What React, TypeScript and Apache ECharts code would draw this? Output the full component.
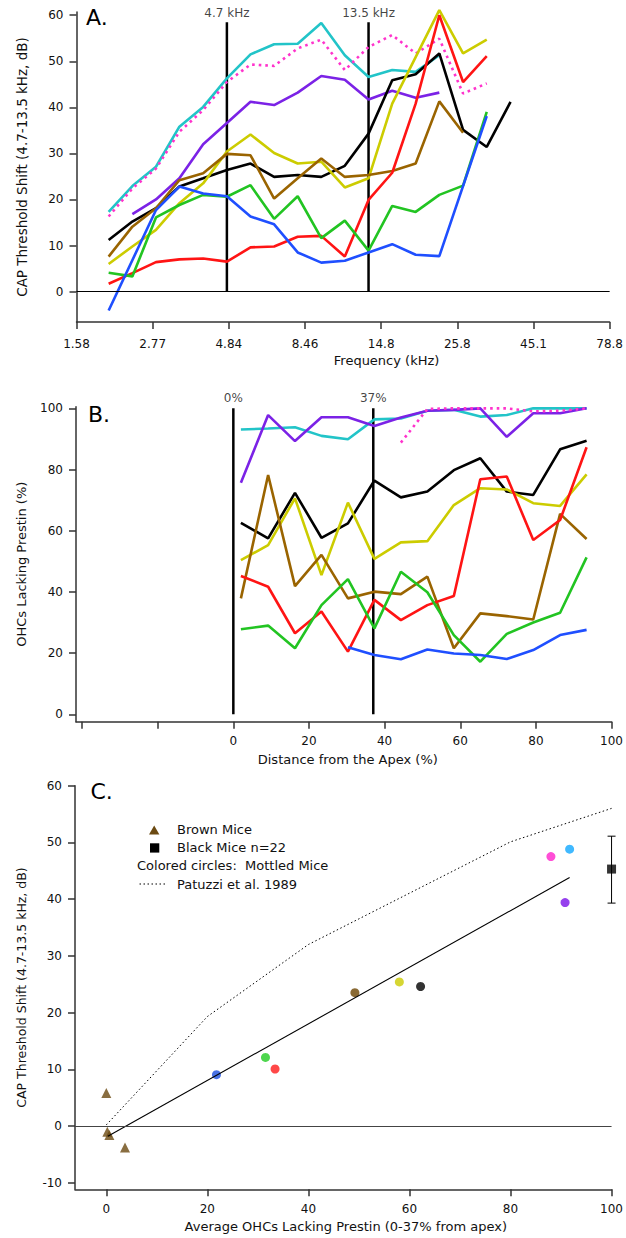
import React, { useEffect, useRef } from "react";
import * as echarts from "echarts";

// ---------- Panel A data ----------
const FREQ_TICK_LABELS = ["1.58", "2.77", "4.84", "8.46", "14.8", "25.8", "45.1", "78.8"];
const FREQ_KHZ = [2, 2.38, 2.83, 3.36, 4, 4.76, 5.66, 6.73, 8, 9.51, 11.3, 13.45, 16, 19, 22.6, 26.9, 32, 38.1];
const A_MARKERS = [4.76, 13.45];
const A_MARKER_LABELS = ["4.7 kHz", "13.5 kHz"];
const A_MARKER_TOP = 58.5;

const A_CYAN = [17.3, 22.9, 27.1, 35.8, 40.1, 46.3, 51.5, 53.7, 53.8, 58.3, 51.3, 46.6, 48.1, 47.7, 51.3, null, null, null];
const A_MAGENTA = [16.3, 22.4, 26.7, 34.7, 39.4, 45.5, 49.3, 49.0, 52.8, 54.7, 48.1, 53.1, 55.7, 51.7, 54.9, 43.0, 45.2, null];
const A_PURPLE = [null, 16.8, 20.0, 24.6, 32.0, 36.6, 41.2, 40.5, 43.2, 46.8, 46.0, 41.7, 43.6, 42.1, 43.2, null, null, null];
const A_BLACK = [11.2, 15.2, 18.1, 22.8, 24.6, 26.4, 27.8, 24.9, 25.3, 24.9, 27.3, 34.3, 45.9, 47.2, 51.7, 35.1, 31.4, 41.2];
const A_YELLOW = [6.0, 9.8, 13.4, 19.2, 23.5, 30.4, 34.1, 30.1, 27.8, 28.2, 22.6, 24.6, 40.8, 50.9, 61.1, 51.7, 54.7, null];
const A_RED = [1.7, 4.0, 6.4, 7.0, 7.2, 6.5, 9.6, 9.8, 11.9, 12.1, 7.6, 19.9, 25.8, 40.8, 60.0, 45.5, 51.1, null];
const A_BROWN = [7.6, 14.1, 18.1, 24.2, 25.7, 29.9, 29.6, 20.2, 24.6, 28.9, 24.9, 25.3, 26.2, 27.8, 41.3, 34.5, null, null];
const A_GREEN = [4.1, 3.3, 16.1, 18.8, 21.0, 20.6, 23.1, 15.8, 20.7, 11.6, 15.4, 8.9, 18.6, 17.3, 21.0, 23.0, 39.0, null];
const A_BLUE = [-4.1, null, 17.7, 22.8, 21.3, 20.7, 16.3, 14.6, 8.5, 6.3, 6.7, 8.5, 10.3, 8.0, 7.7, null, 38.1, null];

// ---------- Panel B data ----------
const B_X = [2, 9.2, 16.3, 23.3, 30.3, 37.3, 44.3, 51.3, 58.3, 65.3, 72.3, 79.3, 86.4, 93.4];
const B_MARKERS = [0, 37];
const B_MARKER_LABELS = ["0%", "37%"];
const B_CYAN = [93.1, 93.4, 93.8, 91.0, 89.9, 96.4, 96.7, 99.2, 99.5, 97.3, 97.8, 100, 100, 100];
const B_PURPLE = [75.7, 97.8, 89.3, 97.1, 97.1, 94.2, 97.0, 99.2, 99.5, 100, 90.7, 98.4, 98.4, 100];
const B_MAGENTA = [null, null, null, null, null, null, 88.8, 99.8, 100, 100, 100, 99.0, 99.2, 100];
const B_MAGENTA_CIRCLE = [2, 88.3];
const B_BLACK = [62.6, 57.5, 72.4, 57.7, 62.4, 76.4, 70.9, 72.8, 79.8, 83.7, 72.8, 71.7, 86.6, 89.4];
const B_YELLOW = [50.4, 55.3, 70.6, 45.5, 69.2, 50.8, 56.2, 56.6, 68.4, 73.9, 73.5, 69.0, 68.1, 78.4];
const B_RED = [45.2, 41.7, 26.5, 33.6, 20.5, 37.4, 30.8, 35.7, 38.7, 76.8, 77.7, 57.0, 63.5, 87.3];
const B_BROWN = [37.9, 78.2, 41.9, 52.1, 37.9, 40.1, 39.3, 45.0, 21.6, 33.0, 32.1, 31.0, 65.5, 57.3];
const B_GREEN = [27.8, 29.0, 21.6, 35.7, 44.2, 28.1, 46.6, 39.9, 25.9, 17.2, 26.3, 30.0, 33.2, 51.3];
const B_BLUE = [null, null, null, null, 21.9, 19.4, 18.0, 21.2, 19.9, 19.4, 18.1, 21.0, 25.9, 27.6];

// ---------- Panel C data ----------
const C_BROWN_X = [0, 0.2, 0.6, 3.7];
const C_BROWN_Y = [5.8, -1.0, -1.6, -3.8];
const C_BLACK_SQ = [100, 45.3];
const C_BLACK_ERR = [39.3, 51.1];
const C_CIRCLE_X = [21.8, 31.5, 33.4, 49.2, 58.0, 62.2, 88.0, 91.7, 90.8];
const C_CIRCLE_Y = [9.05, 12.1, 10.05, 23.5, 25.4, 24.6, 47.5, 48.8, 39.4];
const C_FIT_X = [0.3, 91.7];
const C_FIT_Y = [-1.8, 43.8];
const C_PATUZZI_X = [0, 20, 40, 80, 100];
const C_PATUZZI_Y = [0.2, 19.3, 32.0, 50.1, 56.0];

// ---------- styles ----------
const FONT = "DejaVu Sans";
const COL = {
  cyan: "#22c4c8",
  magenta: "#ff33cc",
  purple: "#7b22e6",
  black: "#000000",
  yellow: "#cccc00",
  red: "#ff1414",
  brown: "#9a6400",
  green: "#22c422",
  blue: "#1f4fff",
};
const C_CIRCLE_COLORS = ["#1a4fdf", "#22cc22", "#ff1a1a", "#6b4400", "#cccc00", "#000000", "#ff22cc", "#10a8ff", "#7a10e8"];

const LOG_SPAN = Math.log10(78.8 / 1.58);
const fpos = (f: number) => (7 * Math.log10(f / 1.58)) / LOG_SPAN;

function axisBase(extra: any) {
  return {
    type: "value",
    splitLine: { show: false },
    axisLine: { show: true, onZero: false, lineStyle: { color: "#333", width: 1.5 } },
    axisTick: { show: true, inside: false, length: 7, lineStyle: { color: "#333", width: 1.5 }, ...(extra.axisTick || {}) },
    axisLabel: { color: "#111", fontFamily: FONT, fontSize: 12, ...(extra.axisLabel || {}) },
    nameTextStyle: { color: "#111", fontFamily: FONT, fontSize: 13, ...(extra.nameTextStyle || {}) },
    ...Object.fromEntries(Object.entries(extra).filter(([k]) => !["axisTick", "axisLabel", "nameTextStyle"].includes(k))),
  };
}

function lineA(name: string, vals: (number | null)[], color: string, dotted = false) {
  return {
    type: "line",
    name,
    xAxisIndex: 0,
    yAxisIndex: 0,
    data: FREQ_KHZ.map((f, i) => [fpos(f), vals[i]]),
    showSymbol: false,
    symbol: "none",
    connectNulls: true,
    clip: false,
    lineStyle: { color, width: 2.6, type: dotted ? [2.6, 4] : "solid" },
  };
}

function lineB(name: string, vals: (number | null)[], color: string, dotted = false) {
  return {
    type: "line",
    name,
    xAxisIndex: 1,
    yAxisIndex: 1,
    data: B_X.map((x, i) => [x, vals[i]]),
    showSymbol: false,
    symbol: "none",
    connectNulls: false,
    clip: false,
    lineStyle: { color, width: 2.6, type: dotted ? [2.6, 4] : "solid" },
  };
}

export default function App() {
  const ref = useRef<HTMLDivElement>(null);
  useEffect(() => {
    if (!ref.current) return;
    const chart = echarts.init(ref.current, null, { renderer: "svg" });

    const markerSeriesA = A_MARKERS.map((f) => ({
      type: "line",
      xAxisIndex: 0,
      yAxisIndex: 0,
      data: [[fpos(f), 0], [fpos(f), A_MARKER_TOP]],
      showSymbol: false,
      symbol: "none",
      lineStyle: { color: "#000", width: 2.5 },
    }));
    const markerSeriesB = B_MARKERS.map((x) => ({
      type: "line",
      xAxisIndex: 1,
      yAxisIndex: 1,
      data: [[x, 0], [x, 100]],
      showSymbol: false,
      symbol: "none",
      lineStyle: { color: "#000", width: 2.5 },
    }));

    const option: any = {
      animation: false,
      backgroundColor: "#fff",
      grid: [
        { left: 76.5, right: 9, top: 12, bottom: 1238 - 322 },
        { left: 76, right: 12, top: 406.8, bottom: 1238 - 721.7 },
        { left: 75, right: 7.7, top: 785.7, bottom: 1238 - 1189.3 },
      ],
      xAxis: [
        axisBase({
          gridIndex: 0,
          min: 0,
          max: 7,
          interval: 1,
          name: "Frequency (kHz)",
          nameLocation: "middle",
          nameGap: 32,
          nameTextStyle: { padding: [0, 0, 0, 87] },
          axisLabel: { margin: 16, formatter: (v: number) => FREQ_TICK_LABELS[Math.round(v)] ?? "" },
        }),
        axisBase({
          gridIndex: 1,
          min: -41.6,
          max: 100,
          name: "Distance from the Apex (%)",
          nameLocation: "middle",
          nameGap: 31,
          nameTextStyle: { padding: [0, 0, 0, 8] },
          axisTick: { customValues: [-40, -20, 0, 20, 40, 60, 80, 100] },
          axisLabel: { margin: 13, customValues: [0, 20, 40, 60, 80, 100] },
        }),
        axisBase({
          gridIndex: 2,
          min: -6.2,
          max: 100,
          name: "Average OHCs Lacking Prestin (0-37% from apex)",
          nameLocation: "middle",
          nameGap: 31,
          nameTextStyle: { padding: [0, 0, 0, 5] },
          axisTick: { customValues: [0, 20, 40, 60, 80, 100] },
          axisLabel: { margin: 14, customValues: [0, 20, 40, 60, 80, 100] },
        }),
      ],
      yAxis: [
        axisBase({
          gridIndex: 0,
          min: -6.6,
          max: 60.7,
          name: "CAP Threshold Shift (4.7-13.5 kHz, dB)",
          nameLocation: "middle",
          nameGap: 48,
          nameTextStyle: { fontSize: 13.5 },
          axisTick: { customValues: [0, 10, 20, 30, 40, 50, 60] },
          axisLabel: { margin: 13, customValues: [0, 10, 20, 30, 40, 50, 60] },
        }),
        axisBase({
          gridIndex: 1,
          min: -2.4,
          max: 100.5,
          name: "OHCs Lacking Prestin (%)",
          nameLocation: "middle",
          nameGap: 48,
          axisTick: { customValues: [0, 20, 40, 60, 80, 100] },
          axisLabel: { margin: 13, customValues: [0, 20, 40, 60, 80, 100] },
        }),
        axisBase({
          gridIndex: 2,
          min: -11.16,
          max: 60,
          name: "CAP Threshold Shift (4.7-13.5 kHz, dB)",
          nameLocation: "middle",
          nameGap: 47,
          nameTextStyle: { fontSize: 12.5 },
          axisTick: { customValues: [-10, 0, 10, 20, 30, 40, 50, 60] },
          axisLabel: { margin: 13, customValues: [-10, 0, 10, 20, 30, 40, 50, 60] },
        }),
      ],
      series: [
        // ---- Panel A ----
        {
          type: "line",
          xAxisIndex: 0,
          yAxisIndex: 0,
          data: [],
          markLine: {
            silent: true,
            symbol: "none",
            label: { show: false },
            lineStyle: { color: "#000", width: 1, type: "solid" },
            data: [{ yAxis: 0 }],
          },
        },
        ...markerSeriesA,
        {
          type: "scatter",
          xAxisIndex: 0,
          yAxisIndex: 0,
          symbolSize: 0,
          data: A_MARKERS.map((f, i) => ({ value: [fpos(f), A_MARKER_TOP], name: A_MARKER_LABELS[i] })),
          label: { show: true, position: "top", distance: 3, formatter: "{b}", color: "#111", fontFamily: FONT, fontSize: 12 },
        },
        lineA("cyan", A_CYAN, COL.cyan),
        lineA("magenta", A_MAGENTA, COL.magenta, true),
        lineA("purple", A_PURPLE, COL.purple),
        lineA("black", A_BLACK, COL.black),
        lineA("yellow", A_YELLOW, COL.yellow),
        lineA("brown", A_BROWN, COL.brown),
        lineA("red", A_RED, COL.red),
        lineA("green", A_GREEN, COL.green),
        lineA("blue", A_BLUE, COL.blue),

        // ---- Panel B ----
        ...markerSeriesB,
        {
          type: "scatter",
          xAxisIndex: 1,
          yAxisIndex: 1,
          symbolSize: 0,
          data: B_MARKERS.map((x, i) => ({ value: [x, 100], name: B_MARKER_LABELS[i] })),
          label: { show: true, position: "top", distance: 4, formatter: "{b}", color: "#111", fontFamily: FONT, fontSize: 12 },
        },
        lineB("cyan", B_CYAN, COL.cyan),
        lineB("purple", B_PURPLE, COL.purple),
        lineB("magenta", B_MAGENTA, COL.magenta, true),
        lineB("black", B_BLACK, COL.black),
        lineB("yellow", B_YELLOW, COL.yellow),
        lineB("brown", B_BROWN, COL.brown),
        lineB("red", B_RED, COL.red),
        lineB("green", B_GREEN, COL.green),
        lineB("blue", B_BLUE, COL.blue),
        {
          type: "scatter",
          xAxisIndex: 1,
          yAxisIndex: 1,
          symbol: "emptyCircle",
          symbolSize: 8,
          data: [B_MAGENTA_CIRCLE],
          itemStyle: { color: "#fff", borderColor: COL.magenta, borderWidth: 2 },
        },

        // ---- Panel C ----
        {
          type: "line",
          xAxisIndex: 2,
          yAxisIndex: 2,
          data: [],
          markLine: {
            silent: true,
            symbol: "none",
            label: { show: false },
            lineStyle: { color: "#444", width: 1, type: "solid" },
            data: [{ yAxis: 0 }],
          },
        },
        {
          type: "line",
          name: "Patuzzi et al. 1989",
          xAxisIndex: 2,
          yAxisIndex: 2,
          data: C_PATUZZI_X.map((x, i) => [x, C_PATUZZI_Y[i]]),
          showSymbol: false,
          symbol: "none",
          lineStyle: { color: "#000", width: 1, type: [1.5, 2.5] },
        },
        {
          type: "line",
          name: "fit",
          xAxisIndex: 2,
          yAxisIndex: 2,
          data: C_FIT_X.map((x, i) => [x, C_FIT_Y[i]]),
          showSymbol: false,
          symbol: "none",
          lineStyle: { color: "#000", width: 1.1 },
        },
        {
          type: "scatter",
          name: "Brown Mice",
          xAxisIndex: 2,
          yAxisIndex: 2,
          symbol: "triangle",
          symbolSize: 10,
          data: C_BROWN_X.map((x, i) => [x, C_BROWN_Y[i]]),
          itemStyle: { color: "#6b4a12" },
        },
        {
          type: "scatter",
          name: "Mottled Mice",
          xAxisIndex: 2,
          yAxisIndex: 2,
          symbol: "circle",
          symbolSize: 9,
          data: C_CIRCLE_X.map((x, i) => ({ value: [x, C_CIRCLE_Y[i]], itemStyle: { color: C_CIRCLE_COLORS[i] } })),
        },
        {
          type: "custom",
          xAxisIndex: 2,
          yAxisIndex: 2,
          clip: false,
          data: [[C_BLACK_SQ[0], C_BLACK_ERR[0], C_BLACK_ERR[1]]],
          renderItem: (params: any, api: any) => {
            const x = api.value(0);
            const lo = api.coord([x, api.value(1)]);
            const hi = api.coord([x, api.value(2)]);
            const w = 4;
            const st = { stroke: "#000", lineWidth: 1 };
            return {
              type: "group",
              children: [
                { type: "line", shape: { x1: lo[0], y1: lo[1], x2: hi[0], y2: hi[1] }, style: st },
                { type: "line", shape: { x1: lo[0] - w, y1: lo[1], x2: lo[0] + w, y2: lo[1] }, style: st },
                { type: "line", shape: { x1: hi[0] - w, y1: hi[1], x2: hi[0] + w, y2: hi[1] }, style: st },
              ],
            };
          },
        },
        {
          type: "scatter",
          name: "Black Mice n=22",
          xAxisIndex: 2,
          yAxisIndex: 2,
          symbol: "rect",
          symbolSize: 9,
          clip: false,
          data: [C_BLACK_SQ],
          itemStyle: { color: "#000" },
        },
      ],
      graphic: [
        { type: "text", left: 86, top: 6, style: { text: "A.", font: `22px "${FONT}"`, fill: "#000" } },
        { type: "text", left: 88, top: 403, style: { text: "B.", font: `22px "${FONT}"`, fill: "#000" } },
        { type: "text", left: 90.5, top: 780, style: { text: "C.", font: `22px "${FONT}"`, fill: "#000" } },
        // legend of panel C
        { type: "polygon", shape: { points: [[149, 834.5], [159.4, 834.5], [154.2, 825.5]] }, style: { fill: "#6b4a12" } },
        { type: "text", x: 177, y: 829.5, style: { text: "Brown Mice", font: `13px "${FONT}"`, fill: "#111", verticalAlign: "middle" } },
        { type: "rect", shape: { x: 150, y: 843.3, width: 9.3, height: 9.3 }, style: { fill: "#000" } },
        { type: "text", x: 177, y: 847.8, style: { text: "Black Mice n=22", font: `13px "${FONT}"`, fill: "#111", verticalAlign: "middle" } },
        { type: "text", x: 137, y: 865, style: { text: "Colored circles:  Mottled Mice", font: `13px "${FONT}"`, fill: "#111", verticalAlign: "middle" } },
        { type: "line", shape: { x1: 139.5, y1: 884, x2: 167, y2: 884 }, style: { stroke: "#000", lineWidth: 1, lineDash: [1.5, 2.5] } },
        { type: "text", x: 177, y: 884, style: { text: "Patuzzi et al. 1989", font: `13px "${FONT}"`, fill: "#111", verticalAlign: "middle" } },
      ],
    };

    chart.setOption(option);
    return () => chart.dispose();
  }, []);

  return (
    <div
      ref={ref}
      style={{ position: "absolute", left: 0, top: 0, width: 626, height: 1238, background: "#fff" }}
    />
  );
}
